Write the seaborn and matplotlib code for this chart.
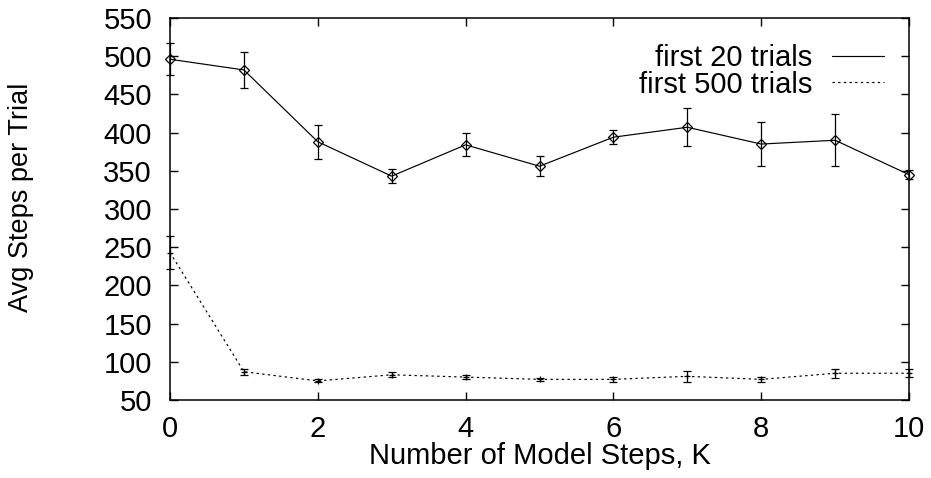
import matplotlib
matplotlib.use("Agg")
import matplotlib.pyplot as plt
import seaborn as sns
import pandas as pd
from matplotlib.lines import Line2D

# Data
k_steps = [0, 1, 2, 3, 4, 5, 6, 7, 8, 9, 10]
first20_mean = [496, 482, 388, 343, 384, 356, 394, 407, 385, 390, 345]
first20_err = [21, 24, 22, 9, 15, 13, 9, 25, 29, 34, 6]
first500_mean = [243, 87, 75, 83, 80, 77, 77, 81, 77, 85, 85]
first500_err = [22, 4, 2, 3, 3, 2, 3, 7, 3, 6, 5]
series_labels = ["first 20 trials", "first 500 trials"]

sns.set_theme(style="ticks")
plt.rcParams["font.family"] = ["Liberation Sans", "DejaVu Sans"]
plt.rcParams["text.color"] = "black"
plt.rcParams["axes.labelcolor"] = "black"

FS = 21
W, H = 931, 478
x0, x1, y0, y1 = 170, 909, 18, 400
fig = plt.figure(figsize=(W / 100, H / 100), dpi=100)
ax = fig.add_axes([x0 / W, 1 - y1 / H, (x1 - x0) / W, (y1 - y0) / H])

df20 = pd.DataFrame({"K": k_steps, "val": first20_mean})
df500 = pd.DataFrame({"K": k_steps, "val": first500_mean})
dotted = (0, (2, 2.8))

sns.lineplot(data=df20, x="K", y="val", ax=ax, color="black", linewidth=0.85,
             marker="D", markersize=5.5, markerfacecolor="none",
             markeredgecolor="black", markeredgewidth=0.9, clip_on=False)
ax.errorbar(k_steps, first20_mean, yerr=first20_err, fmt="none",
            ecolor="black", elinewidth=0.9, capsize=2.7, capthick=0.9,
            clip_on=False)

sns.lineplot(data=df500, x="K", y="val", ax=ax, color="black", linewidth=0.85,
             linestyle=dotted, marker="+", markersize=5,
             markeredgecolor="black", markeredgewidth=0.9, clip_on=False)
ax.errorbar(k_steps, first500_mean, yerr=first500_err, fmt="none",
            ecolor="black", elinewidth=0.9, capsize=2.7, capthick=0.9,
            clip_on=False)

ax.set_xlim(0, 10)
ax.set_ylim(50, 550)
ax.set_xticks([0, 2, 4, 6, 8, 10])
ax.set_yticks(list(range(50, 551, 50)))
ax.tick_params(direction="in", length=6, width=1.0, labelsize=FS,
               top=True, right=True, colors="black", labelcolor="black")
ax.tick_params(axis="x", pad=11)
ax.tick_params(axis="y", pad=13)
for s in ax.spines.values():
    s.set_linewidth(1.1)
    s.set_color("black")
    s.set_visible(True)

ax.set_xlabel("Number of Model Steps, K", fontsize=FS, labelpad=-1)
ax.set_ylabel("Avg Steps per Trial", fontsize=19.5)
ax.yaxis.set_label_coords((34 - x0) / (x1 - x0), (y1 - 197) / (y1 - y0))

handles = [Line2D([], [], color="black", linewidth=0.85),
           Line2D([], [], color="black", linewidth=0.85, linestyle=dotted)]
ax.legend(handles, series_labels, loc="upper right", frameon=False,
          markerfirst=False, fontsize=FS, handlelength=1.8,
          handletextpad=0.65, borderpad=0, borderaxespad=0,
          labelspacing=-0.05,
          bbox_to_anchor=((884 - x0) / (x1 - x0), 1 - 26 / (y1 - y0)))

fig.savefig("out.png", dpi=100)
